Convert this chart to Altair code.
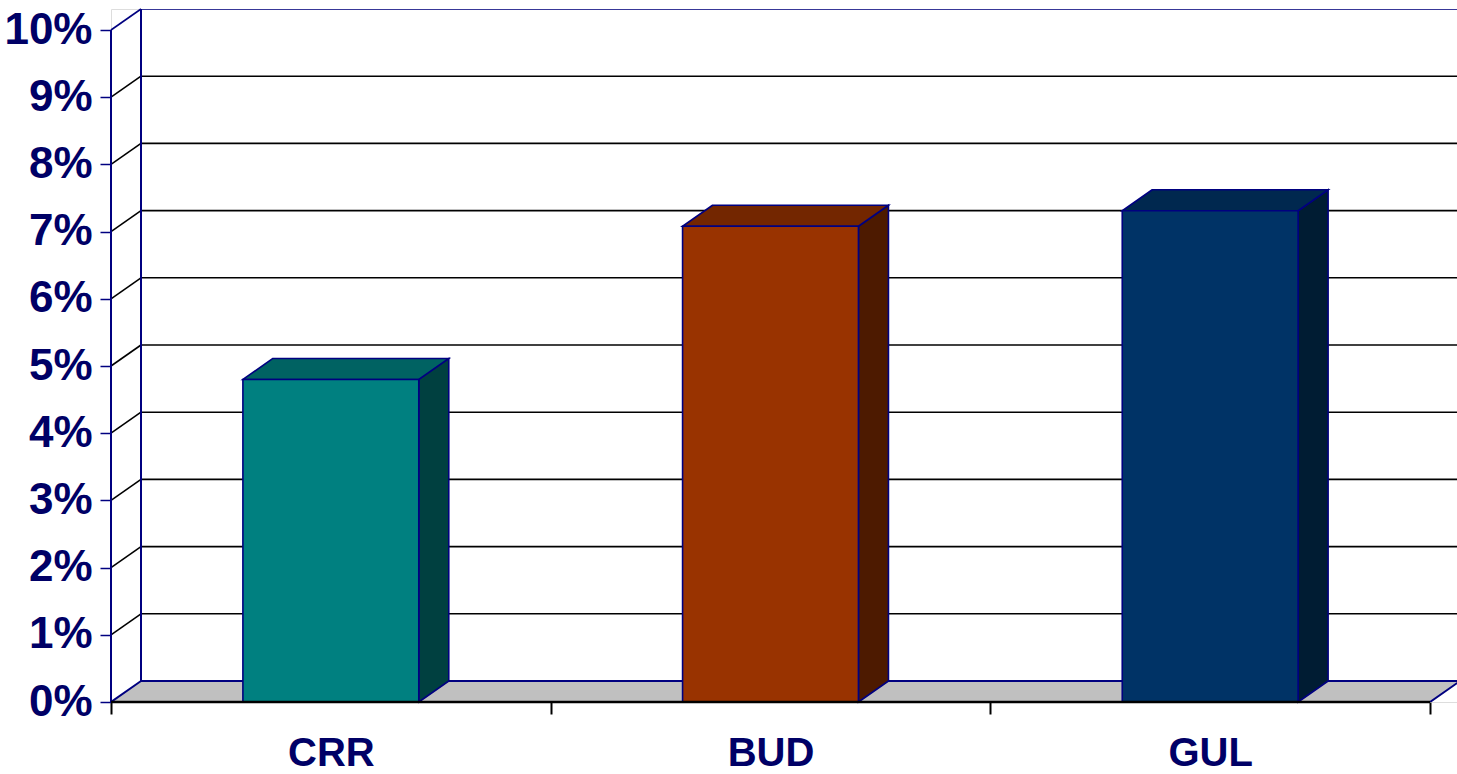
import altair as alt
import pandas as pd

# ---- data ----
categories = ["CRR", "BUD", "GUL"]
values = [4.8, 7.08, 7.31]          # percent
front_colors = ["#008080", "#993300", "#003366"]
top_colors = ["#006262", "#732600", "#00284f"]
side_colors = ["#004040", "#4d1a00", "#001c33"]
y_tick_values = list(range(0, 11))
x_tick_values = [0, 1, 2, 3]

# ---- layout constants (3-D projection) ----
PX_X = 439.67          # pixels per category
PX_Y = 67.2            # pixels per percent
DX = 30 / PX_X         # depth offset in x units
DY = 21 / PX_Y         # depth offset in y units
HALF = 0.2             # half bar width (category units)
W, H = 1346, 693
XMAX = W / PX_X
YMAX = 10 + DY
NAVY = "#000080"
LABEL = "#000066"
FONT = "Liberation Sans Narrow, Liberation Sans, Arial Narrow, Arial, sans-serif"

n = len(categories)
centers = [i + 0.5 for i in range(n)]

label_expr = " : ".join(
    f"datum.value == {c} ? '{cat}'" for c, cat in zip(centers, categories)
) + " : ''"

X_AXIS = alt.Axis(values=sorted(x_tick_values + centers), labelExpr=label_expr,
                  tickOpacity={"condition": {"test": "datum.value % 1 == 0", "value": 1}, "value": 0},
                  tickColor="black", tickWidth=2, tickSize=12, domain=False, grid=False,
                  labelFont=FONT, labelFontWeight="bold", labelFontSize=40, labelColor=LABEL,
                  labelPadding=19, labelFlush=False, labelOverlap=False, labelBound=False,
                  labelBaseline="top", title=None)
Y_AXIS = alt.Axis(values=y_tick_values, labelExpr="datum.value + '%'",
                  tickColor=NAVY, tickWidth=1.5, tickSize=11, domain=False, grid=False,
                  labelFont=FONT, labelFontWeight="bold", labelFontSize=44, labelColor=LABEL,
                  labelPadding=8, labelFlush=False, labelOverlap=False, labelBound=False,
                  labelBaseline="middle", title=None)
XS = alt.Scale(domain=[0, XMAX], nice=False, zero=False)
YS = alt.Scale(domain=[0, YMAX], nice=False, zero=False)


def X(f):
    return alt.X(f, type="quantitative", scale=XS, axis=X_AXIS)


def Y(f):
    return alt.Y(f, type="quantitative", scale=YS, axis=Y_AXIS)


# back wall grid lines
back = pd.DataFrame({
    "x": [DX] * 10, "x2": [n + DX] * 10,
    "y": [k + DY for k in range(1, 11)],
    "c": ["black"] * 9 + [NAVY],
})
# left wall diagonals
left_diag = pd.DataFrame({
    "x": [0] * 10, "x2": [DX] * 10,
    "y": list(range(1, 11)), "y2": [k + DY for k in range(1, 11)],
    "c": ["black"] * 9 + [NAVY],
})
# left wall verticals
left_vert = pd.DataFrame({"x": [0, DX], "y": [0, DY], "y2": [10, 10 + DY]})
# floor
floor = pd.DataFrame({"y": [0, DY], "x": [0, DX], "x2": [n, n + DX]})

fronts = pd.DataFrame({
    "cat": categories,
    "x": [c - HALF for c in centers], "x2": [c + HALF for c in centers],
    "y": [0] * n, "y2": values, "col": front_colors,
})
top_rows, side_rows = [], []
for cat, c, v, tc, sc in zip(categories, centers, values, top_colors, side_colors):
    top_rows.append({"cat": cat, "y": v, "x": c - HALF, "x2": c + HALF, "col": tc})
    top_rows.append({"cat": cat, "y": v + DY, "x": c - HALF + DX, "x2": c + HALF + DX, "col": tc})
    side_rows.append({"cat": cat, "x": c + HALF, "y": 0, "y2": v, "col": sc})
    side_rows.append({"cat": cat, "x": c + HALF + DX, "y": DY, "y2": v + DY, "col": sc})
tops = pd.DataFrame(top_rows)
sides = pd.DataFrame(side_rows)
front_edge = pd.DataFrame({"x": [0], "x2": [n], "y": [0]})

back_layer = alt.Chart(back).mark_rule(strokeWidth=1.6, clip=True).encode(
    x=X("x"), x2="x2", y=Y("y"), color=alt.Color("c:N", scale=None))
diag_layer = alt.Chart(left_diag).mark_rule(strokeWidth=1.6).encode(
    x=X("x"), x2="x2", y=Y("y"), y2="y2", color=alt.Color("c:N", scale=None))
vert_layer = alt.Chart(left_vert).mark_rule(strokeWidth=2, color=NAVY).encode(
    x=X("x"), y=Y("y"), y2="y2")
floor_layer = alt.Chart(floor).mark_area(orient="horizontal", fill="#C0C0C0", stroke=NAVY,
                                         strokeWidth=2, clip=True).encode(
    y=Y("y"), x=X("x"), x2="x2")
side_layer = alt.Chart(sides).mark_area(orient="vertical", stroke=NAVY, strokeWidth=1.6).encode(
    x=X("x"), y=Y("y"), y2="y2", detail="cat:N", fill=alt.Fill("col:N", scale=None))
top_layer = alt.Chart(tops).mark_area(orient="horizontal", stroke=NAVY, strokeWidth=1.6).encode(
    y=Y("y"), x=X("x"), x2="x2", detail="cat:N", fill=alt.Fill("col:N", scale=None))
front_layer = alt.Chart(fronts).mark_rect(stroke=NAVY, strokeWidth=1.6).encode(
    x=X("x"), x2="x2", y=Y("y"), y2="y2", fill=alt.Fill("col:N", scale=None))
edge_layer = alt.Chart(front_edge).mark_rule(strokeWidth=2.5, color="black").encode(
    x=X("x"), x2="x2", y=Y("y"))

chart = alt.layer(
    back_layer, diag_layer, vert_layer, floor_layer,
    side_layer, top_layer, front_layer, edge_layer,
).properties(
    width=W, height=H,
    autosize=alt.AutoSizeParams(type="none"),
    padding={"left": 111, "top": 9, "right": 0, "bottom": 72},
).configure_view(stroke=None).configure(background="white")

chart.save("out.html", embed_options={"renderer": "svg", "actions": False})
